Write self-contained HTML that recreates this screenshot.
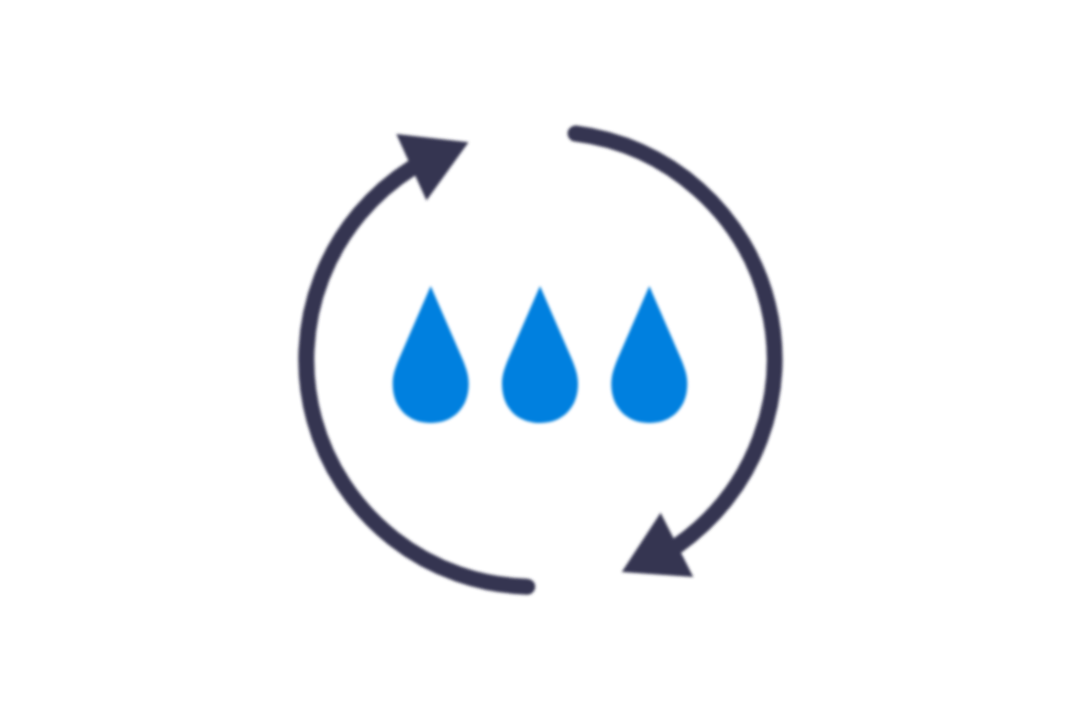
<!DOCTYPE html>
<html lang="en">
<head>
<meta charset="utf-8">
<title>Water cycle icon</title>
<style>
  html, body { margin: 0; padding: 0; background: #ffffff; }
  body { width: 1080px; height: 720px; overflow: hidden; font-family: "Liberation Sans", sans-serif; }
  svg { display: block; }
</style>
</head>
<body>
<svg width="1080" height="720" viewBox="0 0 1080 720" role="img" aria-label="Water recycling">
  <defs>
    <filter id="soft" x="0" y="0" width="1080" height="720" filterUnits="userSpaceOnUse">
      <feGaussianBlur stdDeviation="1.6"/>
    </filter>
  </defs>
  <rect width="1080" height="720" fill="#ffffff"/>
  <g id="icon" filter="url(#soft)">
    <!-- right arc: from top cap clockwise to lower-right arrow -->
    <path d="M575.53 133.47 A227.4 227.4 0 0 1 677.34 545.58" fill="none" stroke="#363651" stroke-width="16" stroke-linecap="round"/>
    <!-- left arc: from bottom cap clockwise to upper-left arrow -->
    <path d="M527.28 586.72 A227.0 227.0 0 0 1 412.36 167.70" fill="none" stroke="#363651" stroke-width="16" stroke-linecap="round"/>
    <!-- arrow heads -->
    <polygon points="396.3,134 468.5,142.3 426.5,200.5" fill="#363651"/>
    <polygon points="621.8,572 693.3,577 660.6,512.8" fill="#363651"/>
    <!-- water drops -->
    <g fill="#0080df">
      <path d="M430.7 286.0 L460.28 354.0 C465.50 366.0 468.7 374.0 468.7 384.0 C468.7 407.40 453.50 423.0 430.7 423.0 C407.90 423.0 392.7 407.40 392.7 384.0 C392.7 374.0 395.90 366.0 401.12 354.0 Z"/>
      <path d="M540 286.0 L569.58 354.0 C574.80 366.0 578 374.0 578 384.0 C578 407.40 562.80 423.0 540 423.0 C517.20 423.0 502 407.40 502 384.0 C502 374.0 505.20 366.0 510.42 354.0 Z"/>
      <path d="M649.3 286.0 L678.88 354.0 C684.10 366.0 687.3 374.0 687.3 384.0 C687.3 407.40 672.10 423.0 649.3 423.0 C626.50 423.0 611.3 407.40 611.3 384.0 C611.3 374.0 614.50 366.0 619.72 354.0 Z"/>
    </g>
  </g>
</svg>
</body>
</html>
